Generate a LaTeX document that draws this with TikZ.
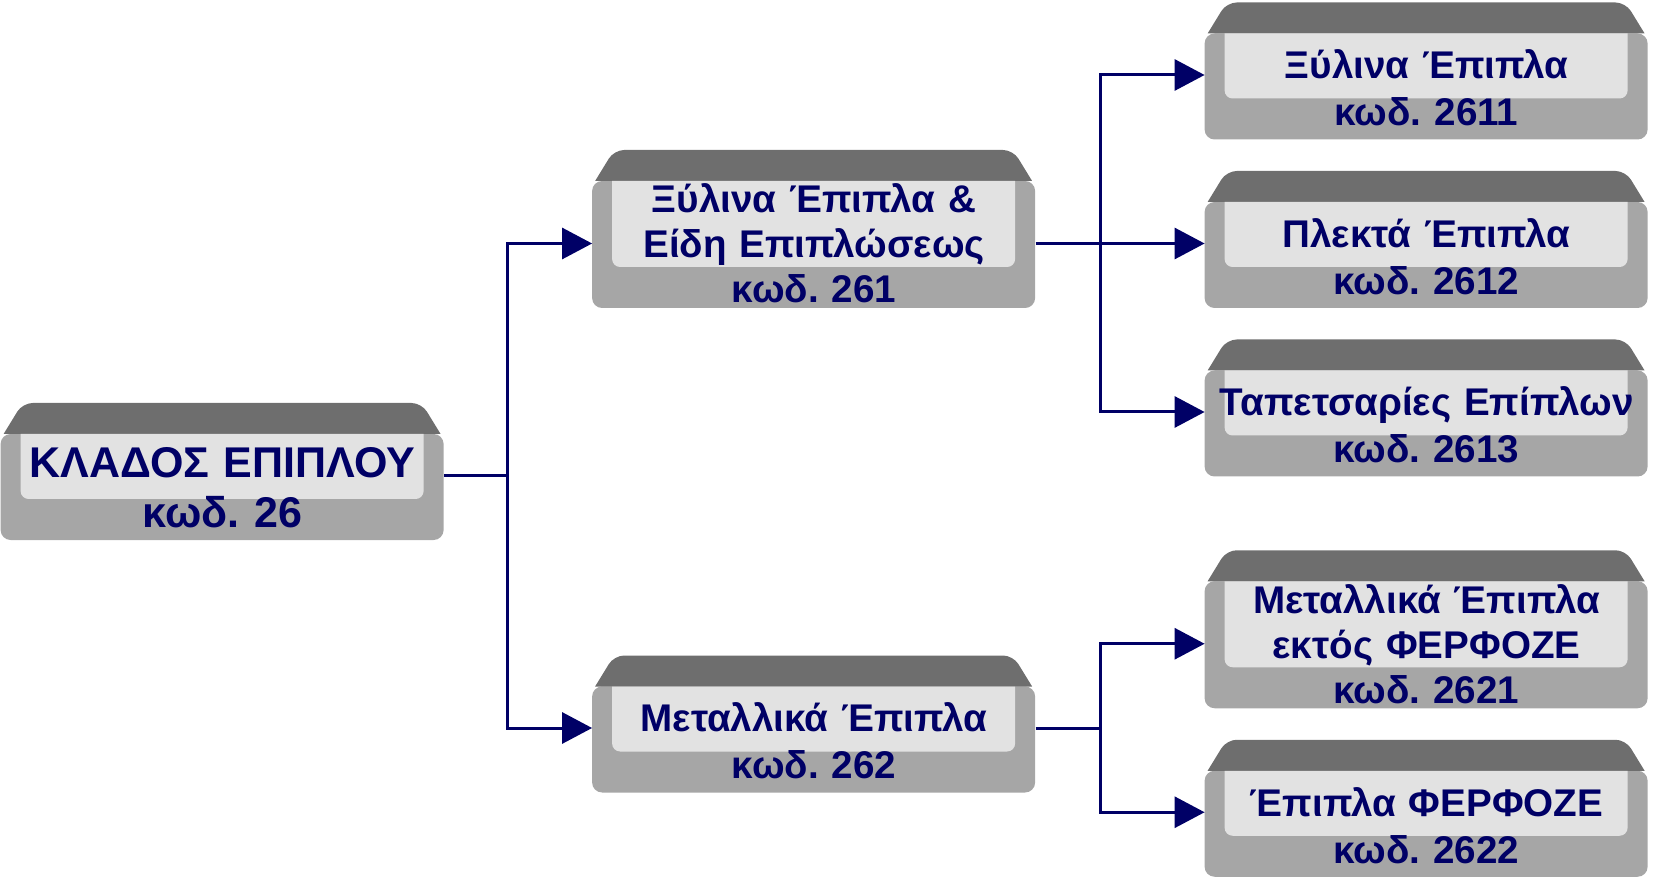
\documentclass[tikz,border=0pt]{standalone}
\usepackage{fontspec}
\setmainfont{Liberation Sans}
\usetikzlibrary{positioning,arrows.meta,backgrounds}
\definecolor{navy}{RGB}{0,0,102}
\definecolor{capdark}{RGB}{110,110,110}
\definecolor{capbody}{RGB}{166,166,166}
\definecolor{caplight}{RGB}{226,226,226}
\frenchspacing
\newcommand{\kod}[1]{κωδ. #1}
\newcommand{\lift}{\rule{0pt}{27.5pt}}

\begin{document}
\begin{tikzpicture}[
x=0.5pt, y=-0.5pt,
grow'=right,
level distance=306.25pt,
sibling distance=84.25pt,
keycap/.style={rectangle, inner sep=0pt, minimum width=221.5pt, text width=221.5pt, align=center, text=navy, font=\bfseries\fontsize{19.3}{23.5}\selectfont},
tall/.style={font=\bfseries\fontsize{19.3}{22.5}\selectfont},
link/.style={draw=navy, line width=1.5pt, -{Triangle[length=15pt,width=15.5pt]}},
edge from parent/.style={draw=none}]
\useasboundingbox (0,0) rectangle (1653,881);
\node[keycap, font=\bfseries\fontsize{21.5}{25}\selectfont] (root) at (222.5,475.5) {\lift ΚΛΑΔΟΣ ΕΠΙΠΛΟΥ\\ \kod{26}};

\node[keycap, tall] (k261) at (814,243.5) {Ξύλινα Έπιπλα \&\\ Είδη Επιπλώσεως\\ \kod{261}}
  child {node[keycap] (k2611) {\lift Ξύλινα Έπιπλα\\ \kod{2611}}}
  child {node[keycap] (k2612) {\lift Πλεκτά Έπιπλα\\ \kod{2612}}}
  child {node[keycap] (k2613) {\lift Ταπετσαρίες Επίπλων\\ \kod{2613}}};

\node[keycap] (k262) at (814,728) {\lift Μεταλλικά Έπιπλα\\ \kod{262}}
  child {node[keycap, tall] (k2621) {Μεταλλικά Έπιπλα\\ εκτός ΦΕΡΦΟΖΕ\\ \kod{2621}}}
  child {node[keycap] (k2622) {\lift Έπιπλα ΦΕΡΦΟΖΕ\\ \kod{2622}}};

% keycaps behind the text
\begin{scope}[on background layer]
\foreach \n/\h in {root/137, k261/158, k262/137, k2611/137, k2612/137, k2613/137, k2621/158, k2622/137}{
  \begin{scope}[shift={(\n.west)}]
    \fill[capbody, rounded corners=5pt] (0,{95.5-\h}) rectangle (443,64.5);
    \fill[capdark] (3,{95.5-\h}) [rounded corners=5pt] -- (22,{64.5-\h}) -- (421,{64.5-\h}) [sharp corners] -- (440,{95.5-\h}) -- cycle;
    \fill[caplight] (20,{95.5-\h}) [rounded corners=4pt] -- (20,23.5) -- (423,23.5) [sharp corners] -- (423,{95.5-\h}) -- cycle;
  \end{scope}}
\end{scope}

% connectors
\draw[link] (root.east) -- ++(63,0) |- (k261.west);
\draw[link] (root.east) -- ++(63,0) |- (k262.west);
\foreach \c in {k2611,k2612,k2613}
  \draw[link] (k261.east) -- ++(64.5,0) |- (\c.west);
\foreach \c in {k2621,k2622}
  \draw[link] (k262.east) -- ++(64.5,0) |- (\c.west);
\end{tikzpicture}
\end{document}
